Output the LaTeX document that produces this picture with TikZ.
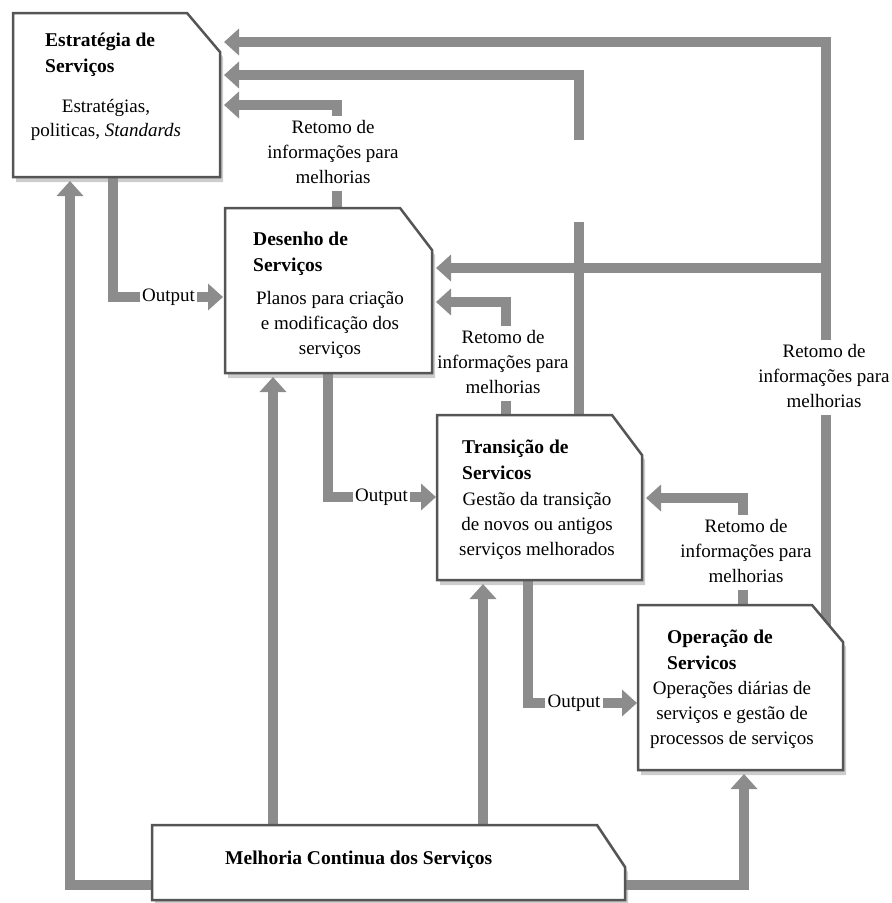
\documentclass[tikz,border=0pt]{standalone}
\usepackage{fontspec}
\setmainfont{Liberation Serif}
\usetikzlibrary{arrows.meta}
\definecolor{flowgray}{RGB}{140,140,140}
\definecolor{edgegray}{RGB}{85,85,85}
\definecolor{shadegray}{RGB}{205,205,205}
\newcommand\regfont{\fontsize{19}{25}\selectfont}
\newcommand\titfont{\fontsize{19.5}{26}\selectfont\bfseries}
\newcommand\chshadow[3]{%
  \fill[shadegray] ([shift={(3,5)}]#1.north west) -- ([shift={(3-#2,5)}]#1.north east) -- ([shift={(3,5+#3)}]#1.north east) -- ([shift={(3,5)}]#1.south east) -- ([shift={(3,5)}]#1.south west) -- cycle;}
\newcommand\chedge[3]{%
  \filldraw[fill=white,draw=edgegray,line width=2.5pt,line join=miter] (#1.north west) -- ([shift={(-#2,0)}]#1.north east) -- ([shift={(0,#3)}]#1.north east) -- (#1.south east) -- (#1.south west) -- cycle;}
\begin{document}
\begin{tikzpicture}[x=1pt,y=-1pt,
  flow/.style={draw=flowgray,line width=10pt},
  flowarrow/.style={flow,-{Triangle[width=26pt,length=15pt]},shorten >=4pt},
  boxarea/.style={draw=none,rectangle,inner sep=0pt,outer sep=0pt},
  boxtitle/.style={font=\titfont,align=left,anchor=north west,inner sep=0pt},
  boxbody/.style={font=\regfont,align=center,anchor=north,inner sep=0pt},
  fbtext/.style={font=\regfont,align=center,anchor=north,inner sep=0pt},
  outtext/.style={font=\regfont,inner xsep=2pt,inner ysep=0pt}]
\useasboundingbox (0,0) rectangle (892,903);
% box areas
\node[boxarea,minimum width=207pt,minimum height=164pt] (est) at (116.5,95) {};
\node[boxarea,minimum width=207pt,minimum height=165pt] (dsn) at (328.5,290.5) {};
\node[boxarea,minimum width=205pt,minimum height=165pt] (trn) at (539.5,497.5) {};
\node[boxarea,minimum width=205pt,minimum height=165pt] (opr) at (740.5,687.5) {};
\node[boxarea,minimum width=473pt,minimum height=75pt] (mel) at (388.5,862.5) {};
% feedback labels
\node[fbtext] (l1) at (333,115.5) {\strut Retomo de\\informações para\\melhorias\strut};
\node[fbtext] (l2) at (503,325.5) {\strut Retomo de\\informações para\\melhorias\strut};
\node[fbtext] (l3) at (824,339.5) {\strut Retomo de\\informações para\\melhorias\strut};
\node[fbtext] (l4) at (746,514.5) {\strut Retomo de\\informações para\\melhorias\strut};
% output labels
\node[outtext] (o1) at (168.5,297) {Output};
\node[outtext] (o2) at (381.5,497) {Output};
\node[outtext] (o3) at (574,703) {Output};
% lanes
\coordinate (vR) at (826,0);
\coordinate (vT) at (579,0);
\coordinate (v1) at (337,0);
\coordinate (v2) at (506,0);
\coordinate (v4) at (743,0);
\coordinate (vO1) at (113,0);
\coordinate (vO2) at (328,0);
\coordinate (vO3) at (528,0);
\coordinate (vL) at (70,0);
\coordinate (vM2) at (273,0);
\coordinate (vM3) at (483,0);
\coordinate (vM4) at (744,0);
\coordinate (hA) at (0,42);
\coordinate (hB) at (0,75);
\coordinate (hC) at (0,105);
\coordinate (hD) at (0,268);
\coordinate (hE) at (0,302);
\coordinate (hF) at (0,498);
\coordinate (hM) at (0,885);
\coordinate (g1) at (579,222);
\coordinate (g2) at (579,140);
% shadows
\chshadow{est}{33}{39}
\chshadow{dsn}{32}{42}
\chshadow{trn}{30}{40}
\chshadow{opr}{31}{37}
\chshadow{mel}{28}{42}
% feedback from Operação
\draw[flow] (opr.center -| vR) -- (l3.south -| vR);
\draw[flowarrow] (l3.north -| vR) |- (est.east |- hA);
\draw[flowarrow] (vR |- hD) -- (dsn.east |- hD);
% feedback from Transição to Estratégia
\draw[flow] (trn.north -| vT) -- (g1);
\draw[flowarrow] (g2) |- (est.east |- hB);
% feedback from Desenho
\draw[flow] (dsn.north -| v1) -- (l1.south -| v1);
\draw[flowarrow] (l1.north -| v1) |- (est.east |- hC);
% feedback from Transição to Desenho
\draw[flow] (trn.north -| v2) -- (l2.south -| v2);
\draw[flowarrow] (l2.north -| v2) |- (dsn.east |- hE);
% feedback from Operação to Transição
\draw[flow] (opr.north -| v4) -- (l4.south -| v4);
\draw[flowarrow] (l4.north -| v4) |- (trn.east |- hF);
% outputs
\draw[flow] (est.south -| vO1) |- (o1.west);
\draw[flowarrow,shorten >=2pt] (o1.east) -- (dsn.west |- o1.east);
\draw[flow] (dsn.south -| vO2) |- (o2.west);
\draw[flowarrow,shorten >=1pt] (o2.east) -- (trn.west |- o2.east);
\draw[flow] (trn.south -| vO3) |- (o3.west);
\draw[flowarrow,shorten >=1pt] (o3.east) -- (opr.west |- o3.east);
% continual improvement
\draw[flowarrow] (mel.west |- hM) -| (est.south -| vL);
\draw[flowarrow] (mel.north -| vM2) -- (dsn.south -| vM2);
\draw[flowarrow] (mel.north -| vM3) -- (trn.south -| vM3);
\draw[flowarrow] (mel.east |- hM) -| (opr.south -| vM4);
% boxes
\chedge{est}{33}{39}
\chedge{dsn}{32}{42}
\chedge{trn}{30}{40}
\chedge{opr}{31}{37}
\chedge{mel}{28}{42}
% box texts
\node[boxtitle] (est-t) at (45,27.8) {\strut Estratégia de\\Serviços};
\node[boxbody,font=\fontsize{19}{24}\selectfont] (est-b) at (106,95.2) {\strut Estratégias,\\politicas, \textit{Standards}};
\node[boxtitle] (dsn-t) at (253,226.8) {\strut Desenho de\\Serviços};
\node[boxbody] (dsn-b) at (330,286.5) {\strut Planos para criação\\e modificação dos\\serviços};
\node[boxtitle] (trn-t) at (462,434.8) {\strut Transição de\\Servicos};
\node[boxbody] (trn-b) at (537,487.5) {\strut Gestão da transição\\de novos ou antigos\\serviços melhorados};
\node[boxtitle] (opr-t) at (667,624.8) {\strut Operação de\\Servicos};
\node[boxbody] (opr-b) at (732,676.5) {\strut Operações diárias de\\serviços e gestão de\\processos de serviços};
\node[font=\titfont,anchor=base west,inner sep=0pt] (mel-t) at (225,864) {Melhoria Continua dos Serviços};
\end{tikzpicture}
\end{document}
